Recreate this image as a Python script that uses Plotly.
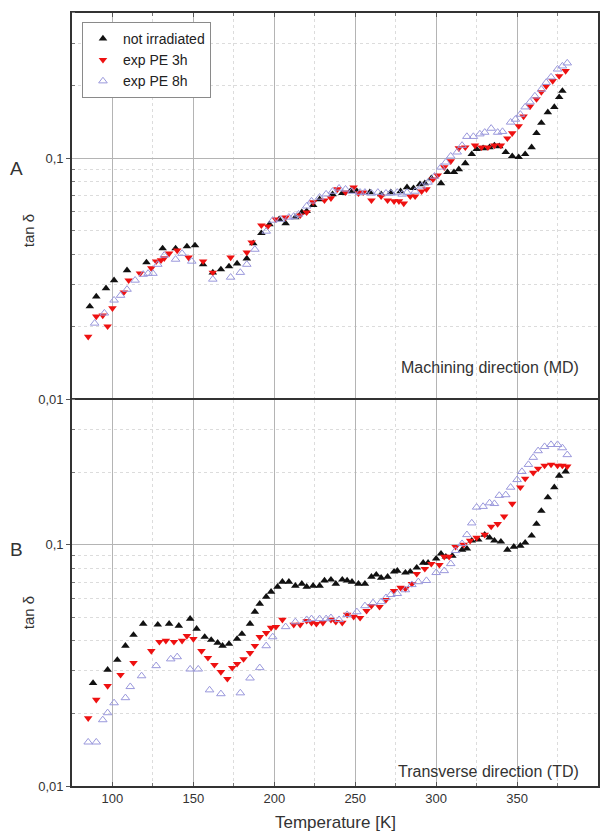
import plotly.graph_objects as go
from plotly.subplots import make_subplots

# ---- Panel A: machining direction (MD) ----
md_not_irr_T = [86, 90, 96, 101, 109, 121, 131, 139, 146, 151, 156, 162, 167, 172, 177,
                183, 187, 192, 197, 203, 207, 213, 217, 220, 224, 228, 236, 242, 247, 251,
                259, 266, 272, 278, 282, 286, 290, 293, 297, 303, 307, 311, 314, 318, 322,
                325, 329, 333, 336, 339, 343, 347, 351, 355, 359, 362, 365, 369, 373, 376, 378]
md_not_irr = [0.0243, 0.0267, 0.0289, 0.0312, 0.0343, 0.037, 0.0423, 0.0423, 0.0431, 0.0435,
              0.0363, 0.0336, 0.0346, 0.0356, 0.0366, 0.0384, 0.0444, 0.0489, 0.0532, 0.0558,
              0.0537, 0.0569, 0.0597, 0.0603, 0.064, 0.0676, 0.0709, 0.0716, 0.073, 0.073,
              0.0722, 0.0709, 0.0722, 0.0729, 0.0758, 0.0751, 0.078, 0.0787, 0.0826, 0.0787,
              0.0875, 0.0875, 0.09, 0.0953, 0.104, 0.109, 0.11, 0.111, 0.113, 0.112,
              0.106, 0.102, 0.101, 0.104, 0.111, 0.127, 0.140, 0.155, 0.163, 0.179, 0.190]

md_pe3_T = [85, 90, 94, 97, 100, 107, 110, 117, 124, 127, 130, 132, 135, 140, 147,
            156, 162, 173, 183, 186, 192, 196, 201, 207, 216, 220, 224, 231, 235, 239,
            244, 249, 252, 255, 260, 266, 270, 274, 277, 280, 284, 287, 291, 294, 298,
            301, 305, 309, 314, 318, 324, 328, 332, 336, 340, 344, 347, 351, 354, 358,
            362, 365, 368, 372, 376, 380]
md_pe3 = [0.0182, 0.0221, 0.0223, 0.0201, 0.0239, 0.0278, 0.0312, 0.0333, 0.035, 0.0374,
          0.0378, 0.0385, 0.0403, 0.0415, 0.0388, 0.0374, 0.0336, 0.0388, 0.0407, 0.0448,
          0.0527, 0.0522, 0.0558, 0.0569, 0.058, 0.0597, 0.0657, 0.0669, 0.0683, 0.0744,
          0.0722, 0.0758, 0.0716, 0.0722, 0.0669, 0.0695, 0.0669, 0.0664, 0.0664, 0.065,
          0.0695, 0.0695, 0.0729, 0.0744, 0.0818, 0.085, 0.0918, 0.0972, 0.110, 0.111,
          0.113, 0.111, 0.111, 0.113, 0.113, 0.121, 0.127, 0.136, 0.149, 0.164,
          0.176, 0.188, 0.199, 0.209, 0.219, 0.230]

md_pe8_T = [89, 95, 101, 105, 109, 114, 119, 122, 125, 128, 132, 139, 143, 149, 162,
            173, 179, 183, 188, 195, 199, 204, 209, 212, 215, 220, 223, 228, 232, 236,
            240, 244, 248, 253, 256, 260, 264, 269, 272, 276, 279, 282, 287, 291, 295,
            299, 303, 306, 309, 313, 316, 319, 323, 327, 330, 334, 338, 341, 346, 349,
            352, 355, 358, 361, 365, 368, 371, 375, 378, 381]
md_pe8 = [0.0207, 0.0228, 0.0258, 0.027, 0.0286, 0.0312, 0.033, 0.0333, 0.0333, 0.0363,
          0.0396, 0.0381, 0.0403, 0.0374, 0.0315, 0.0321, 0.0336, 0.0363, 0.0419, 0.0498,
          0.0553, 0.0558, 0.0569, 0.0574, 0.0586, 0.0633, 0.0664, 0.0689, 0.071, 0.0729,
          0.0751, 0.0744, 0.0729, 0.0722, 0.0722, 0.0716, 0.0722, 0.0716, 0.0716, 0.0722,
          0.0709, 0.0722, 0.0729, 0.0766, 0.0795, 0.0842, 0.0918, 0.0963, 0.102, 0.106,
          0.113, 0.123, 0.123, 0.126, 0.128, 0.133, 0.128, 0.129, 0.141, 0.145,
          0.152, 0.163, 0.171, 0.181, 0.193, 0.206, 0.217, 0.234, 0.241, 0.248]

# ---- Panel B: transverse direction (TD) ----
td_not_irr_T = [88, 97, 103, 108, 113, 119, 128, 135, 141, 148, 152, 157, 161, 165, 168,
                172, 177, 180, 185, 188, 191, 195, 198, 202, 205, 209, 213, 217, 220, 224,
                228, 231, 235, 238, 242, 245, 248, 252, 256, 260, 263, 266, 270, 274, 276,
                281, 284, 288, 292, 295, 300, 303, 306, 310, 316, 319, 322, 326, 330, 333,
                336, 340, 344, 348, 352, 355, 359, 362, 365, 369, 373, 376, 380]
td_not_irr = [0.0267, 0.0303, 0.0333, 0.0381, 0.0423, 0.047, 0.0466, 0.047, 0.0461, 0.0493,
              0.0448, 0.0415, 0.0403, 0.0392, 0.0381, 0.0388, 0.0407, 0.0427, 0.047, 0.0527,
              0.0569, 0.0608, 0.0638, 0.0669, 0.0702, 0.0702, 0.0676, 0.0689, 0.0669, 0.0676,
              0.0676, 0.071, 0.0716, 0.0689, 0.0716, 0.071, 0.0702, 0.0689, 0.0689, 0.0736,
              0.0751, 0.0729, 0.0736, 0.0773, 0.078, 0.0766, 0.0773, 0.0803, 0.0842, 0.0842,
              0.0875, 0.0918, 0.0892, 0.09, 0.0953, 0.0963, 0.104, 0.105, 0.11, 0.107,
              0.104, 0.103, 0.0953, 0.098, 0.099, 0.102, 0.109, 0.122, 0.138, 0.157,
              0.173, 0.193, 0.201]

td_pe3_T = [85, 90, 97, 105, 113, 124, 129, 133, 138, 143, 146, 150, 155, 159, 163,
            167, 171, 174, 177, 181, 185, 188, 191, 195, 198, 201, 205, 212, 216, 220,
            223, 226, 230, 235, 238, 242, 245, 249, 253, 257, 260, 265, 269, 274, 278,
            281, 285, 288, 293, 297, 302, 305, 308, 312, 317, 321, 325, 330, 334, 338,
            342, 347, 352, 355, 360, 363, 367, 371, 375, 378, 381]
td_pe3 = [0.0191, 0.0228, 0.026, 0.0289, 0.0324, 0.0363, 0.0396, 0.04, 0.0396, 0.04,
          0.0419, 0.0407, 0.0363, 0.034, 0.0318, 0.0297, 0.0278, 0.0309, 0.0321, 0.0336,
          0.0356, 0.0381, 0.0415, 0.0431, 0.0453, 0.0457, 0.0489, 0.0466, 0.0466, 0.0484,
          0.0475, 0.047, 0.0475, 0.0489, 0.0479, 0.0475, 0.0513, 0.0503, 0.0498, 0.0532,
          0.0558, 0.0553, 0.0591, 0.0644, 0.0664, 0.0657, 0.0689, 0.0758, 0.0795, 0.0834,
          0.0826, 0.0892, 0.0892, 0.098, 0.1, 0.104, 0.107, 0.11, 0.119, 0.122,
          0.131, 0.148, 0.173, 0.188, 0.199, 0.207, 0.213, 0.215, 0.213, 0.213, 0.211]

td_pe8_T = [85, 90, 94, 97, 101, 108, 111, 118, 127, 136, 140, 148, 153, 160, 167,
            179, 185, 191, 195, 199, 207, 213, 220, 223, 228, 232, 235, 240, 245, 251,
            256, 261, 266, 269, 272, 276, 281, 285, 289, 294, 300, 305, 309, 312, 316,
            319, 322, 325, 329, 333, 336, 339, 343, 346, 350, 353, 357, 360, 363, 367,
            371, 375, 378, 381]
td_pe8 = [0.0152, 0.0152, 0.0188, 0.0201, 0.0221, 0.0232, 0.0258, 0.0286, 0.0315, 0.0336,
          0.0343, 0.0305, 0.0305, 0.025, 0.0241, 0.0243, 0.028, 0.0309, 0.0381, 0.0415,
          0.0457, 0.0479, 0.0489, 0.0493, 0.0493, 0.0493, 0.0498, 0.0489, 0.0513, 0.0527,
          0.0558, 0.0574, 0.058, 0.0603, 0.0621, 0.0627, 0.065, 0.0683, 0.0702, 0.071,
          0.0766, 0.078, 0.0834, 0.0945, 0.101, 0.11, 0.123, 0.143, 0.144, 0.149,
          0.148, 0.16, 0.161, 0.173, 0.186, 0.201, 0.215, 0.23, 0.245, 0.255,
          0.26, 0.26, 0.252, 0.236]

series_names = ["not irradiated", "exp PE 3h", "exp PE 8h"]
x_ticks = [100, 150, 200, 250, 300, 350, 400]
y_ticks = [0.01, 0.1]
y_tick_text = ["0,01", "0,1"]
y_minor = [0.02, 0.03, 0.04, 0.05, 0.06, 0.07, 0.08, 0.09, 0.2, 0.3, 0.4]

styles = [
    dict(symbol="triangle-up", color="#111111", size=7.5),
    dict(symbol="triangle-down", color="#ee1111", size=7.5),
    dict(symbol="triangle-up-open", color="#9a98dc", size=7.5, line=dict(width=1, color="#9a98dc")),
]

FONT = "Liberation Sans, Arial, sans-serif"
TXT = "#333333"

fig = make_subplots(rows=2, cols=1, shared_xaxes=True, vertical_spacing=0)

panels = [
    (1, [(md_not_irr_T, md_not_irr), (md_pe3_T, md_pe3), (md_pe8_T, md_pe8)]),
    (2, [(td_not_irr_T, td_not_irr), (td_pe3_T, td_pe3), (td_pe8_T, td_pe8)]),
]
for row, sets in panels:
    for (tx, ty), name, st in zip(sets, series_names, styles):
        fig.add_trace(
            go.Scatter(x=tx, y=ty, mode="markers", name=name, marker=st,
                       showlegend=(row == 1)),
            row=row, col=1,
        )

LINE = dict(showline=True, linecolor="#333333", linewidth=1.6)

for row in (1, 2):
    fig.update_xaxes(
        range=[75, 400], tickvals=x_ticks, showgrid=True, gridcolor="#b4b4b4", gridwidth=1.3,
        ticks="inside", ticklen=4, tickcolor="#555555",
        minor=dict(dtick=25, tick0=75, showgrid=True, gridcolor="#dcdcdc", griddash="dot",
                   gridwidth=1, ticks="inside", ticklen=3, tickcolor="#777777"),
        showticklabels=(row == 2), zeroline=False,
        tickfont=dict(family=FONT, size=13, color=TXT),
        # the upper panel draws only its top frame edge; the shared middle edge
        # comes from the lower panel's mirrored axis line
        side=("top" if row == 1 else "bottom"), mirror=(row == 2),
        row=row, col=1, **LINE,
    )
    fig.update_yaxes(
        type="log", range=[-2, -0.398], tickvals=y_ticks, ticktext=y_tick_text,
        showgrid=True, gridcolor="#b4b4b4", gridwidth=1.3,
        ticks="outside", ticklen=4, tickcolor="#555555",
        minor=dict(tickvals=y_minor, showgrid=True, gridcolor="#dcdcdc", griddash="dot",
                   gridwidth=1, ticks="inside", ticklen=3, tickcolor="#777777"),
        tickfont=dict(family=FONT, size=13, color=TXT),
        zeroline=False, mirror=True, row=row, col=1, **LINE,
    )

L, R, T, B = 72, 8, 13, 46
W, H = 608, 832
pw, ph = W - L - R, H - T - B


def px(x):
    return (x - L) / pw


def py(y):
    return (H - B - y) / ph


annots = [
    dict(text="A", x=px(16), y=py(168), font=dict(size=19)),
    dict(text="tan δ", x=px(28), y=py(231), font=dict(size=15), textangle=-90),
    dict(text="B", x=px(16), y=py(549), font=dict(size=19)),
    dict(text="tan δ", x=px(28), y=py(613), font=dict(size=15), textangle=-90),
    dict(text="Machining direction (MD)", x=px(583), y=py(367), font=dict(size=16),
         xanchor="right"),
    dict(text="Transverse direction (TD)", x=px(583), y=py(771), font=dict(size=16),
         xanchor="right"),
    dict(text="Temperature [K]", x=px(336), y=py(822), font=dict(size=17)),
]
for a in annots:
    a.setdefault("xanchor", "center")
    a["font"].update(family=FONT, color=TXT)
    fig.add_annotation(xref="paper", yref="paper", showarrow=False, yanchor="middle", **a)

fig.update_layout(
    width=W, height=H,
    margin=dict(l=L, r=R, t=T, b=B),
    paper_bgcolor="white", plot_bgcolor="white",
    font=dict(family=FONT, color=TXT),
    legend=dict(
        x=px(82), y=py(22), xanchor="left", yanchor="top",
        bgcolor="white", bordercolor="#8a8a8a", borderwidth=1,
        font=dict(family=FONT, size=14, color="#222222"),
        tracegroupgap=0, itemwidth=30,
    ),
)

fig.write_html("out.html")
